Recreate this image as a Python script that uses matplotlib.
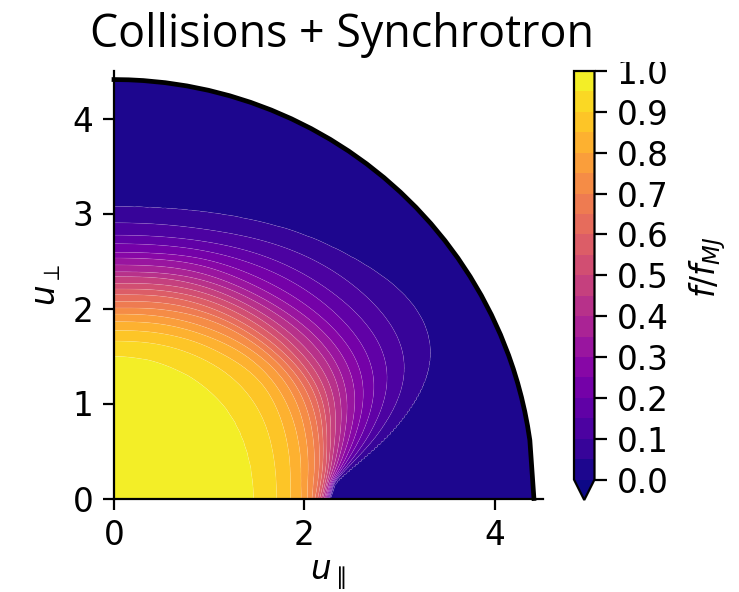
import numpy as np
import matplotlib
matplotlib.use("Agg")
import matplotlib.pyplot as plt
from matplotlib.transforms import Bbox, TransformedBbox

# contour levels, outermost first
levels_read = [0.05, 0.10, 0.15, 0.20, 0.25, 0.30, 0.35, 0.40, 0.45, 0.50,
               0.55, 0.60, 0.65, 0.70, 0.75, 0.80, 0.85, 0.90, 0.95]

# radius of each level, read along rays at these pitch angles (deg)
ray_angles = [0, 5, 10, 15, 20, 25, 30, 37, 45, 52, 60, 70, 80, 90]
r_00 = [2.27, 2.265, 2.26, 2.25, 2.24, 2.23, 2.22, 2.21, 2.19, 2.18, 2.16, 2.14, 2.11, 2.08, 2.03, 1.965, 1.855, 1.71, 1.465]
r_05 = [2.34, 2.33, 2.32, 2.31, 2.30, 2.29, 2.28, 2.26, 2.25, 2.23, 2.21, 2.18, 2.15, 2.10, 2.04, 1.97, 1.86, 1.71, 1.465]
r_10 = [2.68, 2.59, 2.56, 2.51, 2.48, 2.44, 2.40, 2.37, 2.33, 2.30, 2.27, 2.23, 2.19, 2.14, 2.07, 1.99, 1.875, 1.72, 1.47]
r_15 = [3.10, 2.93, 2.80, 2.70, 2.625, 2.555, 2.495, 2.45, 2.39, 2.345, 2.305, 2.27, 2.23, 2.17, 2.10, 2.02, 1.90, 1.73, 1.475]
r_20 = [3.56, 3.27, 3.07, 2.92, 2.79, 2.70, 2.61, 2.54, 2.48, 2.42, 2.37, 2.32, 2.27, 2.21, 2.13, 2.04, 1.92, 1.75, 1.48]
r_25 = [3.75, 3.43, 3.22, 3.06, 2.93, 2.82, 2.72, 2.645, 2.57, 2.50, 2.44, 2.38, 2.31, 2.24, 2.16, 2.06, 1.94, 1.77, 1.49]
r_30 = [3.80, 3.47, 3.26, 3.09, 2.96, 2.85, 2.75, 2.67, 2.59, 2.52, 2.45, 2.40, 2.33, 2.26, 2.18, 2.08, 1.96, 1.78, 1.50]
r_37 = [3.73, 3.42, 3.22, 3.06, 2.93, 2.83, 2.74, 2.66, 2.57, 2.50, 2.43, 2.37, 2.31, 2.25, 2.18, 2.08, 1.98, 1.79, 1.51]
r_45 = [3.56, 3.34, 3.14, 3.00, 2.87, 2.77, 2.68, 2.61, 2.53, 2.46, 2.40, 2.33, 2.27, 2.21, 2.14, 2.06, 1.95, 1.78, 1.515]
r_52 = [3.46, 3.25, 3.07, 2.94, 2.81, 2.71, 2.63, 2.56, 2.49, 2.43, 2.36, 2.30, 2.24, 2.18, 2.10, 2.02, 1.90, 1.76, 1.51]
r_60 = [3.32, 3.13, 2.98, 2.86, 2.75, 2.66, 2.58, 2.52, 2.45, 2.39, 2.33, 2.26, 2.20, 2.14, 2.05, 1.965, 1.87, 1.73, 1.51]
r_70 = [3.18, 2.99, 2.865, 2.77, 2.69, 2.62, 2.54, 2.47, 2.41, 2.345, 2.28, 2.22, 2.15, 2.08, 2.00, 1.92, 1.82, 1.70, 1.505]
r_80 = [3.09, 2.92, 2.79, 2.70, 2.61, 2.55, 2.48, 2.41, 2.36, 2.29, 2.23, 2.17, 2.10, 2.03, 1.96, 1.88, 1.785, 1.67, 1.50]
r_90 = [3.06, 2.89, 2.76, 2.67, 2.58, 2.52, 2.445, 2.37, 2.32, 2.25, 2.19, 2.13, 2.06, 1.99, 1.93, 1.85, 1.76, 1.65, 1.50]

r_max = 4.41
f_center = 0.99
f_edge = 0.01

# outer boundary rays, coarse only next to the axis
edge_angles = [0, 8, 10, 12, 14, 16, 18, 20, 23, 26, 29, 32, 35, 38, 41, 44, 47, 50, 53, 56, 59,
               62, 65, 68, 71, 74, 77, 80, 83, 86, 88, 90]

xticks = [0, 2, 4]
yticks = [0, 1, 2, 3, 4]
cbar_ticks = [0.0, 0.1, 0.2, 0.3, 0.4, 0.5, 0.6, 0.7, 0.8, 0.9, 1.0]

W, H = 739, 592
plt.rcParams.update({
    "font.size": 23.5,
    "axes.linewidth": 1.6,
    "figure.facecolor": "white",
})


def px_rect(x0, y0, x1, y1):
    return [x0 / W, 1 - y1 / H, (x1 - x0) / W, (y1 - y0) / H]


# table -> field on a polar mesh, rays joined then smoothed in angle
# (smoothing width grows with angle so the fan at the axis stays tight)
table = np.array([r_00, r_05, r_10, r_15, r_20, r_25, r_30, r_37, r_45, r_52, r_60, r_70, r_80, r_90])
theta = np.arange(0, 90.25, 0.5)
joined = np.array([np.interp(theta, ray_angles, table[:, k]) for k in range(table.shape[1])]).T
dense = np.zeros_like(joined)
for i, a in enumerate(theta):
    sig = np.clip(a / 3, 0.3, 5.0)
    w = np.exp(-0.5 * ((theta - a) / sig) ** 2)
    # mirror weights at the 90 deg edge
    w = w + np.exp(-0.5 * ((180 - theta - a) / sig) ** 2)
    dense[i] = (w[:, None] * joined).sum(axis=0) / w.sum()

r = np.linspace(0, r_max, 600)
f = np.zeros((len(theta), len(r)))
vals = np.r_[f_center, np.array(levels_read)[::-1], f_edge]
for i in range(len(theta)):
    knots = np.r_[0, dense[i, ::-1], r_max]
    f[i] = np.interp(r, knots, vals)

th = np.deg2rad(theta)
X = np.outer(np.cos(th), r)
Y = np.outer(np.sin(th), r)

fig = plt.figure(figsize=(W / 100, H / 100), dpi=100)
ax = fig.add_axes(px_rect(114, 71, 542.5, 498.5))

cs = ax.contourf(X, Y, f, levels=np.linspace(0, 1, 21), cmap="plasma", extend="min", antialiased=True)
# faint light seams between the filled bands
ax.contour(X, Y, f, levels=levels_read, colors="white", linewidths=0.4, alpha=0.2)

ea = np.deg2rad(edge_angles)
ax.plot(r_max * np.cos(ea), r_max * np.sin(ea), color="k", lw=3.4, clip_on=False, solid_joinstyle="round", zorder=5)

ax.set_xlim(0, 4.5)
ax.set_ylim(0, 4.5)
ax.set_xticks(xticks)
ax.set_yticks(yticks)
ax.tick_params(length=8, width=1.6, pad=7)
ax.spines["top"].set_visible(False)
ax.spines["right"].set_visible(False)
ax.set_xlabel(r"$u_\parallel$", labelpad=4.5)
ax.set_ylabel(r"$u_\perp$", labelpad=7)

cax = fig.add_axes(px_rect(574, 71, 594.5, 500))
cb = fig.colorbar(cs, cax=cax, ticks=cbar_ticks)
cb.ax.tick_params(length=8.5, width=1.6, pad=7.5)
cb.outline.set_linewidth(1.6)
cb.set_label(r"$f/f_{MJ}$", labelpad=13, y=0.52)

# the 1.0 label is cut off at the top in the original
clip = TransformedBbox(Bbox([[0, 0], [1, 1 - 62 / H]]), fig.transFigure)
for lbl in cb.ax.get_yticklabels():
    if lbl.get_text() == "1.0":
        lbl.set_clip_box(clip)
        lbl.set_clip_on(True)

fig.text(342 / W, 1 - 47 / H, "Collisions + Synchrotron", ha="center", va="baseline",
         fontsize=32.2, family="Open Sans")

fig.savefig("out.png", dpi=100)
plt.close(fig)
